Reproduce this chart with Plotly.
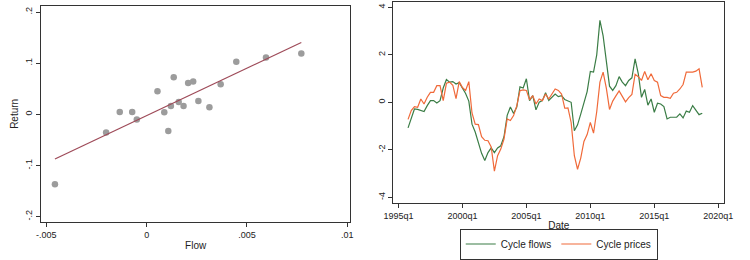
import numpy as np
import plotly.graph_objects as go

# ---------------- Left panel data: Flow vs Return ----------------
flow = [-0.00457, -0.00202, -0.00134, -0.00072, -0.00049, 0.00054, 0.00088, 0.00108,
        0.00121, 0.00135, 0.00160, 0.00184, 0.00207, 0.00232, 0.00258, 0.00313,
        0.00369, 0.00447, 0.00595, 0.00771]
ret = [-0.1366, -0.0353, 0.0046, 0.0046, -0.0098, 0.0450, 0.0039, -0.0327,
       0.0163, 0.0725, 0.0242, 0.0163, 0.0614, 0.0640, 0.0260, 0.0137,
       0.0588, 0.1026, 0.1110, 0.1190]
flow_ticks = [-0.005, 0, 0.005, 0.01]
flow_ticklabels = ["-.005", "0", ".005", ".01"]
ret_ticks = [-0.2, -0.1, 0, 0.1, 0.2]
ret_ticklabels = ["-.2", "-.1", "0", ".1", ".2"]

# ---------------- Right panel data: cycles (quarterly, 1995q4 - 2018q4) ----------------
start_year, start_q = 1995, 4
cycle_flows = [-1.08, -0.63, -0.28, -0.30, -0.35, -0.39, -0.14, 0.07, 0.07, -0.03,
               0.07, 0.60, 0.96, 0.85, 0.87, 0.77, 0.83, 0.62, 0.37, 0.05,
               -0.92, -1.25, -1.72, -2.15, -2.45, -2.12, -1.92, -2.12, -1.92, -1.83,
               -1.45, -0.55, -0.20, -0.47, -0.20, 0.65, 0.60, 0.99, 0.07, 0.28,
               -0.32, 0.00, 0.07, 0.40, 0.08, 0.20, 0.35, 0.24, 0.28, 0.12,
               0.07, 0.00, -1.20, -0.95, -0.50, -0.05, 0.45, 1.30, 1.27, 2.00,
               3.45, 2.80, 1.60, 0.68, 0.50, 0.70, 1.08, 0.85, 0.70, 0.92,
               1.03, 1.83, 1.20, 0.21, 0.54, -0.12, 0.14, -0.42, -0.04, -0.07,
               -0.18, -0.70, -0.63, -0.63, -0.63, -0.49, -0.66, -0.37, -0.42, -0.14,
               -0.33, -0.52, -0.46]
cycle_prices = [-0.72, -0.35, -0.18, -0.21, 0.14, -0.07, 0.21, 0.42, 0.42, 0.70,
                0.70, 0.07, 0.80, 0.85, 0.72, 0.15, 0.87, 0.62, 0.50, 0.87,
                -0.45, -0.92, -0.94, -1.45, -1.60, -1.62, -1.88, -2.90, -2.25, -1.97,
                -1.55, -0.70, -0.77, -0.56, -0.15, 0.49, 0.52, 0.50, 0.10, 0.28,
                -0.07, 0.14, 0.07, 0.35, 0.14, 0.35, 0.56, 0.50, 0.35, -0.25,
                -0.24, -0.85, -2.25, -2.82, -2.35, -1.65, -1.36, -0.85, -1.30, -0.40,
                0.85, 1.27, 0.60, -0.30, 0.05, 0.27, 0.48, 0.25, 0.02, 0.20,
                0.33, 1.18, 1.08, 0.92, 1.30, 0.95, 1.20, 0.92, 0.85, 0.28,
                0.21, 0.21, 0.17, 0.38, 0.42, 0.56, 0.75, 1.27, 1.27, 1.27,
                1.31, 1.41, 0.63]
date_ticks = [1995, 2000, 2005, 2010, 2015, 2020]
date_ticklabels = ["1995q1", "2000q1", "2005q1", "2010q1", "2015q1", "2020q1"]
cycle_ticks = [-4, -2, 0, 2, 4]
cycle_ticklabels = ["-4", "-2", "0", "2", "4"]

# quarter positions as decimal years
t0 = start_year + (start_q - 1) / 4.0
dates = t0 + 0.25 * np.arange(len(cycle_flows))

# linear fit for left panel
slope, intercept = np.polyfit(flow, ret, 1)
fx = np.array([min(flow), max(flow)])
fy = intercept + slope * fx

FONT = "Liberation Sans, Arial, sans-serif"
AX = "#333333"
W, H = 750, 260

def px_x(p):
    return p / W

def px_y(p):
    return (H - p) / H

fig = go.Figure()

fig.add_trace(go.Scatter(x=flow, y=ret, mode="markers",
                         marker=dict(color="#9c9c9c", size=6.5, line=dict(width=0)),
                         xaxis="x", yaxis="y", showlegend=False))
fig.add_trace(go.Scatter(x=fx, y=fy, mode="lines",
                         line=dict(color="#9e4a58", width=1.2),
                         xaxis="x", yaxis="y", showlegend=False))

fig.add_trace(go.Scatter(x=dates, y=cycle_flows, mode="lines", name="Cycle flows",
                         line=dict(color="#3b7d46", width=1.2),
                         xaxis="x2", yaxis="y2"))
fig.add_trace(go.Scatter(x=dates, y=cycle_prices, mode="lines", name="Cycle prices",
                         line=dict(color="#f06a3a", width=1.2),
                         xaxis="x2", yaxis="y2"))

axis_common = dict(showgrid=False, zeroline=False, showline=True, mirror=True,
                   linecolor=AX, linewidth=1, ticks="outside", ticklen=4,
                   tickcolor=AX, tickwidth=1,
                   tickfont=dict(family=FONT, size=9, color="#222"))

fig.update_layout(
    width=W, height=H,
    margin=dict(l=0, r=0, t=0, b=0),
    paper_bgcolor="white", plot_bgcolor="white",
    font=dict(family=FONT, size=10, color="#222"),
    xaxis=dict(domain=[px_x(31.7), px_x(349.3)], range=[-0.00527, 0.01016],
               tickmode="array", tickvals=flow_ticks, ticktext=flow_ticklabels,
               title=dict(text="Flow", font=dict(family=FONT, size=10), standoff=3),
               anchor="y", **axis_common),
    yaxis=dict(domain=[px_y(221.7), px_y(6)], range=[-0.2098, 0.2118],
               tickmode="array", tickvals=ret_ticks, ticktext=ret_ticklabels,
               tickangle=-90,
               title=dict(text="Return", font=dict(family=FONT, size=10), standoff=3),
               anchor="x", **axis_common),
    xaxis2=dict(domain=[px_x(393.3), px_x(732.7)], range=[1994.6, 2020.46],
                tickmode="array", tickvals=date_ticks, ticktext=date_ticklabels,
                title=dict(text="Date", font=dict(family=FONT, size=10), standoff=1),
                anchor="y2", **axis_common),
    yaxis2=dict(domain=[px_y(203.2), px_y(1.5)], range=[-4.25, 4.245],
                tickmode="array", tickvals=cycle_ticks, ticktext=cycle_ticklabels,
                tickangle=-90, anchor="x2", **axis_common),
    legend=dict(orientation="h", x=px_x(563), xanchor="center",
                y=px_y(244), yanchor="middle",
                bordercolor=AX, borderwidth=1, bgcolor="white",
                font=dict(family=FONT, size=10, color="#222"),
                tracegroupgap=0, itemwidth=30),
)

fig.write_html("out.html")
